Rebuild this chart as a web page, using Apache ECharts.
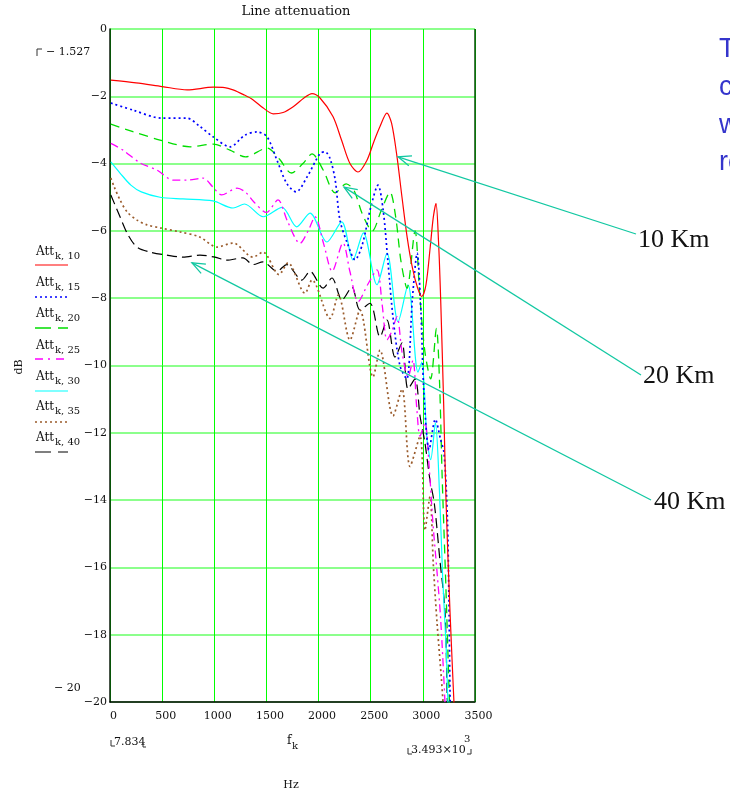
<!DOCTYPE html>
<html><head><meta charset="utf-8">
<script src="https://cdn.jsdelivr.net/npm/echarts@6.0.0/dist/echarts.min.js"></script>
<style>html,body{margin:0;padding:0;background:#fff;overflow:hidden}#c{width:730px;height:793px}</style>
</head><body><div id="c"></div>
<script>
// ---- data (Hz, dB) ----
const seriesNames = ['10', '15', '20', '25', '30', '35', '40'];
const f10  = [8, 250, 500, 740, 990, 1100, 1180, 1280, 1370, 1470, 1565, 1660, 1760, 1860, 1937, 2014, 2138, 2220, 2301, 2378, 2464, 2530, 2589, 2655, 2700, 2750, 2800, 2850, 2900, 2950, 2990, 3030, 3070, 3100, 3126, 3150, 3171, 3200, 3222, 3260, 3298, 3340];
const db10 = [-1.52, -1.6, -1.71, -1.81, -1.73, -1.74, -1.81, -1.95, -2.1, -2.35, -2.52, -2.48, -2.3, -2.05, -1.92, -2.05, -2.6, -3.3, -4.0, -4.25, -3.9, -3.35, -2.9, -2.5, -2.8, -3.75, -5.0, -6.2, -7.1, -7.7, -7.95, -7.6, -6.5, -5.6, -5.18, -6.3, -8.05, -11.2, -14.0, -17.3, -20.0, -23];
const f15  = [8, 220, 499, 738, 863, 988, 1151, 1295, 1410, 1505, 1601, 1697, 1785, 1889, 2014, 2062, 2110, 2160, 2205, 2280, 2350, 2420, 2500, 2570, 2620, 2666, 2715, 2780, 2845, 2900, 2945, 2980, 3010, 3060, 3120, 3170, 3203, 3235, 3250, 3262, 3285];
const db15 = [-2.2, -2.41, -2.65, -2.65, -2.9, -3.2, -3.5, -3.15, -3.06, -3.2, -3.9, -4.6, -4.84, -4.4, -3.7, -3.65, -3.85, -4.5, -5.68, -6.4, -6.86, -6.4, -5.3, -4.64, -5.4, -6.95, -8.6, -10.0, -10.4, -8.0, -6.66, -8.3, -10.8, -12.5, -11.6, -12.2, -12.6, -14.5, -17, -20, -23];
const f20  = [8, 220, 480, 770, 990, 1150, 1300, 1505, 1620, 1740, 1850, 1937, 2044, 2160, 2265, 2340, 2420, 2515, 2600, 2685, 2740, 2790, 2848, 2925, 2970, 3020, 3075, 3130, 3160, 3185, 3220, 3250, 3275];
const db20 = [-2.83, -3.05, -3.3, -3.5, -3.42, -3.6, -3.8, -3.54, -3.85, -4.28, -4.0, -3.71, -4.19, -4.87, -4.6, -4.8, -5.5, -6.0, -5.4, -4.85, -5.6, -6.9, -7.7, -6.0, -7.9, -9.6, -10.4, -8.9, -10.5, -13.3, -16.5, -19.5, -22];
const f25  = [8, 125, 288, 450, 604, 738, 892, 988, 1070, 1218, 1300, 1380, 1500, 1611, 1700, 1822, 1900, 1966, 2050, 2130, 2234, 2300, 2380, 2470, 2560, 2610, 2656, 2700, 2752, 2800, 2858, 2905, 2940, 2973, 3020, 3060, 3097, 3135, 3170, 3212, 3240];
const db25 = [-3.4, -3.6, -3.98, -4.19, -4.49, -4.49, -4.43, -4.7, -4.93, -4.73, -4.85, -5.14, -5.45, -5.08, -5.7, -6.37, -6.0, -5.58, -6.4, -7.2, -6.36, -7.2, -8.1, -7.6, -7.16, -8.2, -9.24, -9.0, -8.55, -9.6, -10.34, -9.84, -11.2, -12.1, -11.7, -13.0, -14.7, -16.1, -17.5, -20, -22];
const f30  = [8, 96, 200, 300, 480, 700, 988, 1180, 1290, 1470, 1650, 1790, 1918, 2080, 2222, 2330, 2430, 2560, 2656, 2762, 2858, 2953, 2990, 3040, 3075, 3120, 3160, 3190, 3225, 3245, 3270];
const db30 = [-3.95, -4.28, -4.64, -4.84, -5.0, -5.05, -5.11, -5.32, -5.2, -5.58, -5.3, -5.88, -5.47, -6.33, -5.73, -6.86, -6.06, -7.6, -6.66, -8.7, -7.6, -10.2, -9.9, -12.2, -12.8, -11.7, -13.8, -16.3, -18.5, -20.5, -22];
const f35  = [8, 40, 96, 163, 259, 355, 480, 671, 860, 1026, 1180, 1371, 1467, 1620, 1707, 1870, 1937, 2110, 2190, 2301, 2397, 2522, 2589, 2714, 2800, 2877, 2973, 3020, 3068, 3100, 3135, 3193, 3220];
const db35 = [-4.43, -4.69, -5.08, -5.43, -5.68, -5.82, -5.91, -6.03, -6.18, -6.48, -6.36, -6.78, -6.63, -7.3, -6.95, -7.85, -7.46, -8.6, -7.9, -9.24, -8.35, -10.34, -9.54, -11.5, -10.7, -13.0, -12.1, -14.9, -13.9, -15.9, -17.6, -20, -22];
const f40  = [8, 96, 173, 258, 384, 543, 700, 863, 1007, 1118, 1275, 1371, 1467, 1600, 1694, 1840, 1918, 2043, 2128, 2225, 2320, 2397, 2493, 2589, 2656, 2733, 2800, 2858, 2925, 2973, 3020, 3068, 3110, 3164, 3212, 3235, 3260];
const db40 = [-4.93, -5.58, -6.12, -6.48, -6.63, -6.72, -6.78, -6.72, -6.78, -6.87, -6.8, -7.0, -6.92, -7.2, -7.0, -7.46, -7.2, -7.7, -7.4, -8.05, -7.67, -8.35, -8.15, -9.15, -8.65, -9.75, -9.33, -10.7, -10.4, -11.5, -12.3, -13.4, -14.1, -15.8, -17.3, -20, -22];
const xTickVals = [0, 500, 1000, 1500, 2000, 2500, 3000, 3500];
const yTickVals = [0, -2, -4, -6, -8, -10, -12, -14, -16, -18, -20];
const annoLabels = ['10 Km', '20 Km', '40 Km'];
const annoTargets = [[2762, -3.8], [2244, -4.7], [786, -6.95]];

const freqs = [f10, f15, f20, f25, f30, f35, f40];
const dbs = [db10, db15, db20, db25, db30, db35, db40];

// ---- styles ----
const SERIF = 'DejaVu Serif';
const styles = [
  {color: '#ff0000', type: 'solid', width: 1.2, legendDash: null},
  {color: '#0000ff', type: [2, 3], width: 1.7, legendDash: [2, 3]},
  {color: '#00dd00', type: [9, 6], width: 1.3, legendDash: [16, 7]},
  {color: '#ff00ff', type: [8, 4, 2, 4], width: 1.3, legendDash: [8, 5, 2, 6]},
  {color: '#00ffff', type: 'solid', width: 1.2, legendDash: null},
  {color: '#9a5b2b', type: [2, 3], width: 1.7, legendDash: [2, 3]},
  {color: '#000000', type: [10, 5], width: 1.2, legendDash: [16, 7]}
];

const chart = echarts.init(document.getElementById('c'), null, {renderer: 'canvas'});

const series = freqs.map((fa, i) => ({
  name: 'Att k,' + seriesNames[i],
  type: 'line',
  data: fa.map((f, j) => [f, dbs[i][j]]),
  showSymbol: false,
  smooth: 0.3,
  clip: true,
  z: 10 - i,
  lineStyle: {color: styles[i].color, type: styles[i].type, width: styles[i].width},
  itemStyle: {color: styles[i].color}
}));

const minus = v => v === 0 ? '0' : '\u2212' + Math.abs(v);

chart.setOption({
  animation: false,
  backgroundColor: '#ffffff',
  grid: {left: 110, top: 29, width: 365, height: 673, containLabel: false},
  xAxis: {
    type: 'value', min: xTickVals[0], max: xTickVals[xTickVals.length - 1], interval: xTickVals[1] - xTickVals[0],
    axisLine: {show: true, onZero: false, lineStyle: {color: '#000', width: 1.5}},
    axisTick: {show: false},
    axisLabel: {fontFamily: SERIF, fontSize: 11, color: '#111', margin: 9, padding: [0, 0, 0, 7], formatter: v => String(v)},
    splitLine: {show: true, lineStyle: {color: '#00ff00', width: 1}}
  },
  yAxis: {
    type: 'value', min: yTickVals[yTickVals.length - 1], max: yTickVals[0], interval: 2,
    axisLine: {show: true, onZero: false, lineStyle: {color: '#0a1a0a', width: 1.5}},
    axisTick: {show: false},
    axisLabel: {fontFamily: SERIF, fontSize: 11, color: '#111', margin: 3, formatter: minus},
    splitLine: {show: true, lineStyle: {color: '#66ff66', width: 1.5}}
  },
  series: series
});

// ---- annotations / texts ----
const g = [];
const txt = (text, x, y, font, opts) => ({
  type: 'text', silent: true,
  style: Object.assign({text: text, x: x, y: y, font: font, fill: '#111', textAlign: 'left', textVerticalAlign: 'middle'}, opts || {})
});
const ln = (x1, y1, x2, y2, stroke, w, dash) => ({
  type: 'line', silent: true, shape: {x1, y1, x2, y2},
  style: {stroke: stroke, lineWidth: w || 1, lineDash: dash || null}
});

// right frame edge
const tr = chart.convertToPixel({gridIndex: 0}, [3500, 0]);
const br = chart.convertToPixel({gridIndex: 0}, [3500, -20]);
g.push(Object.assign(ln(tr[0], tr[1], br[0], br[1], '#0b4a0b', 1.5), {z: 100}));

g.push(txt('Line attenuation', 296, 12, '13px ' + SERIF, {textAlign: 'center'}));
// y-limit markers
g.push({type: 'polyline', silent: true, shape: {points: [[37, 56], [37, 49], [42, 49]]}, style: {stroke: '#333', lineWidth: 1, fill: null}});
g.push(txt('\u2212 1.527', 46, 52, '11px ' + SERIF));
g.push(txt('\u2212 20', 54, 688, '11px ' + SERIF));
// y axis title
g.push({type: 'text', silent: true, x: 19, y: 367, rotation: Math.PI / 2,
  style: {text: 'dB', font: '11px ' + SERIF, fill: '#111', textAlign: 'center', textVerticalAlign: 'middle'}});
// x-limit markers
g.push({type: 'polyline', silent: true, shape: {points: [[111, 740], [111, 746], [115, 746]]}, style: {stroke: '#333', lineWidth: 1, fill: null}});
g.push(txt('7.834', 114, 742, '11px ' + SERIF));
g.push({type: 'polyline', silent: true, shape: {points: [[143, 743], [143, 747], [146, 747]]}, style: {stroke: '#333', lineWidth: 1, fill: null}});
g.push(txt('f', 287, 741, '12px ' + SERIF));
g.push(txt('k', 292, 746, '10px ' + SERIF));
g.push({type: 'polyline', silent: true, shape: {points: [[408, 748], [408, 754], [412, 754]]}, style: {stroke: '#333', lineWidth: 1, fill: null}});
g.push(txt('3.493\u00d710', 411, 750, '11px ' + SERIF));
g.push(txt('3', 464, 739, '10px ' + SERIF));
g.push({type: 'polyline', silent: true, shape: {points: [[467, 754], [471, 754], [471, 749]]}, style: {stroke: '#333', lineWidth: 1, fill: null}});
g.push(txt('Hz', 291, 785, '11px ' + SERIF, {textAlign: 'center'}));

// legend
const legTextY = [252, 283, 314, 346, 377, 407, 438];
const legLineY = [265, 297, 328, 359, 391, 422, 452];
seriesNames.forEach((n, i) => {
  g.push(txt('Att', 36, legTextY[i], '12px ' + SERIF));
  g.push(txt('k, ' + n, 55, legTextY[i] + 4, '10px ' + SERIF));
  g.push(ln(35, legLineY[i], 68, legLineY[i], styles[i].color, styles[i].width, styles[i].legendDash));
});

// blue clipped slide text
const blueLines = ['The', 'curves', 'with', 'respect'];
const blueY = [50, 88, 126, 163];
blueLines.forEach((t, i) => g.push(txt(t, 719, blueY[i], '27px Liberation Sans', {fill: '#3535cc'})));

// arrows + labels
const ARROW = '#12c8a2';
const labelPos = [[638, 240], [643, 376], [654, 502]];
const lineStart = [[636, 234], [641, 375], [651, 500]];
annoLabels.forEach((t, i) => {
  g.push(txt(t, labelPos[i][0], labelPos[i][1], '26px Liberation Serif', {fill: '#111'}));
  const tip = chart.convertToPixel({gridIndex: 0}, annoTargets[i]);
  const s = lineStart[i];
  g.push(Object.assign(ln(s[0], s[1], tip[0], tip[1], ARROW, 1.3), {z: 100}));
  const ang = Math.atan2(s[1] - tip[1], s[0] - tip[0]);
  const L = 14, a = 0.38;
  g.push({type: 'polyline', silent: true, z: 100,
    shape: {points: [[tip[0] + L * Math.cos(ang + a), tip[1] + L * Math.sin(ang + a)], [tip[0], tip[1]], [tip[0] + L * Math.cos(ang - a), tip[1] + L * Math.sin(ang - a)]]},
    style: {stroke: ARROW, lineWidth: 1.3, fill: null}});
});

chart.setOption({graphic: {elements: g}});
</script>
</body></html>
